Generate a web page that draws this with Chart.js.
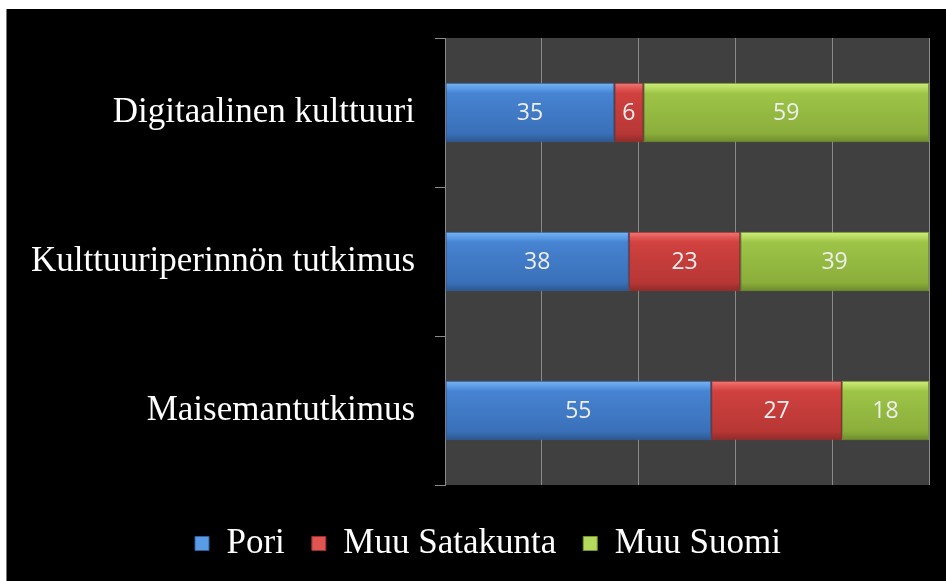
<!DOCTYPE html>
<html>
<head>
<meta charset="utf-8">
<script src="https://cdn.jsdelivr.net/npm/chart.js@4/dist/chart.umd.min.js"></script>
<style>
html,body{margin:0;padding:0;background:#fff;width:946px;height:581px;overflow:hidden;}
#edge{position:absolute;left:6px;top:9px;width:1px;height:572px;background:#777;}
#wrap{position:absolute;left:7px;top:9px;width:939px;height:572px;background:#000;}
</style>
</head>
<body>
<div id="edge"></div>
<div id="wrap"><canvas id="c"></canvas></div>
<script>
const categories = ["Digitaalinen kulttuuri", "Kulttuuriperinnön tutkimus", "Maisemantutkimus"];
const seriesNames = ["Pori", "Muu Satakunta", "Muu Suomi"];
const pori = [35, 38, 55];
const muuSatakunta = [6, 23, 27];
const muuSuomi = [59, 39, 18];
const xTicks = [0, 20, 40, 60, 80, 100];

const palettes = [
  {top:'#7db5f2', hi:'#5a9be6', body:'#4683d1', low:'#3a70b9', bottom:'#2c578f', border:'#2f5f9c'},
  {top:'#f27c7a', hi:'#e05552', body:'#d0413f', low:'#b73735', bottom:'#8f2a28', border:'#9a2f2d'},
  {top:'#d2f07e', hi:'#b4d95e', body:'#9dc447', low:'#8bae3b', bottom:'#6c8a2c', border:'#75952f'}
];
const BAR_PCT = 0.4;
const LEGEND_SHIFT = 20;

function gradFor(ctx, p){
  const chart = ctx.chart;
  const ys = chart.scales && chart.scales.y;
  if(!ys || !chart.chartArea || ctx.dataIndex === undefined) return p.body;
  const c = ys.getPixelForValue(ctx.dataIndex);
  const half = (ys.height / categories.length) * BAR_PCT / 2;
  const g = chart.ctx.createLinearGradient(0, c - half, 0, c + half);
  g.addColorStop(0, p.top);
  g.addColorStop(0.1, p.hi);
  g.addColorStop(0.18, p.body);
  g.addColorStop(0.85, p.low);
  g.addColorStop(1, p.bottom);
  return g;
}

const values = [pori, muuSatakunta, muuSuomi];
const datasets = seriesNames.map((name, i) => ({
  label: name,
  data: values[i],
  backgroundColor: (ctx) => gradFor(ctx, palettes[i]),
  borderColor: palettes[i].border,
  borderWidth: 1,
  borderSkipped: false,
  barPercentage: BAR_PCT,
  categoryPercentage: 1.0
}));

const plotBg = {
  id: 'plotBg',
  beforeDraw(chart){
    const {ctx, chartArea:a} = chart;
    ctx.save();
    ctx.fillStyle = '#404040';
    ctx.fillRect(a.left, a.top, a.right - a.left, a.bottom - a.top);
    ctx.restore();
  }
};

const legendShift = {
  id: 'legendShift',
  afterLayout(chart){
    const l = chart.legend;
    if(l){ l.left += LEGEND_SHIFT; l.right += LEGEND_SHIFT; }
  }
};

const labelsPlugin = {
  id: 'valLabels',
  afterDatasetsDraw(chart){
    const ctx = chart.ctx;
    ctx.save();
    ctx.font = '23px "Open Sans", sans-serif';
    ctx.fillStyle = '#eeeeee';
    ctx.textAlign = 'center';
    ctx.textBaseline = 'middle';
    chart.data.datasets.forEach((ds, di) => {
      const meta = chart.getDatasetMeta(di);
      meta.data.forEach((el, j) => {
        const x = (el.x + el.base) / 2;
        ctx.fillText(String(ds.data[j]), x, el.y + 1);
      });
    });
    ctx.restore();
  }
};

new Chart(document.getElementById('c'), {
  type: 'bar',
  data: { labels: categories, datasets },
  plugins: [plotBg, labelsPlugin, legendShift],
  options: {
    indexAxis: 'y',
    responsive: true,
    maintainAspectRatio: false,
    animation: false,
    layout: { padding: { top: 29, right: 17, bottom: 10, left: 0 } },
    scales: {
      x: {
        stacked: true,
        min: 0, max: 100,
        afterBuildTicks(scale){ scale.ticks = xTicks.map(v => ({value: v})); },
        ticks: { display: false },
        grid: { color: '#8a8a8a', lineWidth: 1, drawTicks: false },
        border: { display: false },
        afterFit(scale){ scale.height = 14; }
      },
      y: {
        stacked: true,
        grid: { color: '#8a8a8a', drawOnChartArea: false, drawTicks: true, tickLength: 10, offset: true },
        border: { display: true, color: '#8a8a8a' },
        ticks: { color: '#ffffff', padding: 20, font: { family: '"Liberation Serif", serif', size: 35 } },
        afterFit(scale){ scale.width = 438; scale.paddingTop = 0; scale.paddingBottom = 0; }
      }
    },
    plugins: {
      legend: {
        position: 'bottom',
        labels: {
          color: '#ffffff',
          boxWidth: 14, boxHeight: 14,
          padding: 27,
          font: { family: '"Liberation Serif", serif', size: 35 },
          generateLabels(chart){
            return chart.data.datasets.map((ds, i) => ({
              text: ds.label,
              fillStyle: palettes[i].hi,
              strokeStyle: palettes[i].border,
              lineWidth: 1,
              fontColor: '#ffffff',
              datasetIndex: i,
              hidden: false
            }));
          }
        }
      },
      tooltip: { enabled: false }
    }
  }
});
</script>
</body>
</html>
